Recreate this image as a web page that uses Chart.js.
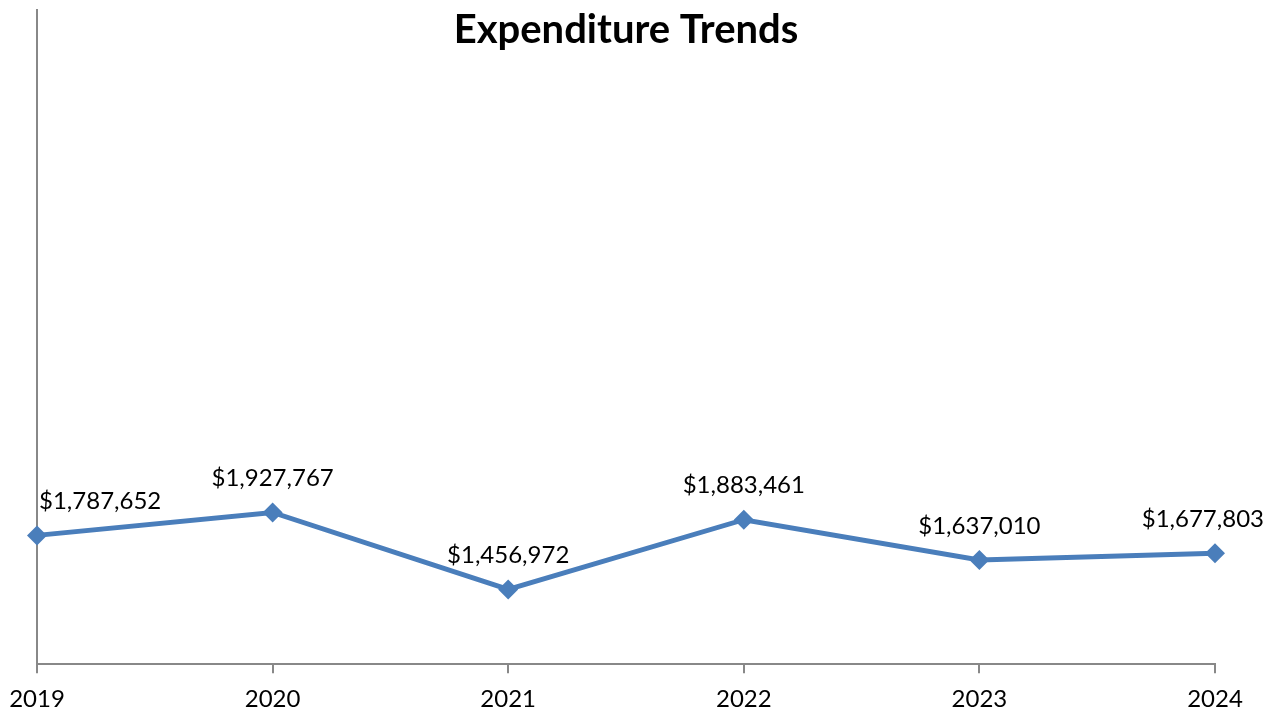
<!DOCTYPE html>
<html>
<head>
<meta charset="utf-8">
<script src="https://cdn.jsdelivr.net/npm/chart.js@4"></script>
<style>
  html, body { margin: 0; padding: 0; background: #fff; }
  #wrap { width: 1276px; height: 711px; }
</style>
</head>
<body>
<div id="wrap"><canvas id="myChart"></canvas></div>
<script>
/* chart data */
const years = ['2019', '2020', '2021', '2022', '2023', '2024'];
const expenditure = [1787652, 1927767, 1456972, 1883461, 1637010, 1677803];
const chartTitle = 'Expenditure Trends';

const FONT = 'Lato, "Open Sans", sans-serif';

function money(v) {
    return '$' + v.toLocaleString('en-US');
}

/* title over the plot + value labels above each point */
const overlay = {
    id: 'overlay',
    afterDatasetsDraw(chart) {
        const ctx = chart.ctx;
        const area = chart.chartArea;
        ctx.save();
        ctx.fillStyle = '#000';
        ctx.textAlign = 'center';
        ctx.textBaseline = 'middle';
        ctx.font = 'bold 40px ' + FONT;
        ctx.fillText(chartTitle, (area.left + area.right) / 2, 30);

        ctx.font = '24px ' + FONT;
        const meta = chart.getDatasetMeta(0);
        meta.data.forEach((pt, i) => {
            const txt = money(expenditure[i]);
            const w = ctx.measureText(txt).width;
            let x = pt.x;
            x = Math.max(x, w / 2 + 39);
            x = Math.min(x, chart.width - w / 2 - 12);
            ctx.fillText(txt, x, pt.y - 34);
        });
        ctx.restore();
    }
};

new Chart(document.getElementById('myChart'), {
    type: 'line',
    data: {
        labels: years,
        datasets: [{
            data: expenditure,
            borderColor: '#4a7ebb',
            backgroundColor: '#4a7ebb',
            borderWidth: 5,
            pointStyle: 'rectRot',
            pointRadius: 10,
            pointBorderWidth: 0,
            tension: 0
        }]
    },
    options: {
        responsive: true,
        maintainAspectRatio: false,
        animation: false,
        layout: { autoPadding: false, padding: { left: 37, right: 61, top: 10, bottom: -15 } },
        plugins: {
            legend: { display: false },
            title: { display: false },
            tooltip: { enabled: false }
        },
        scales: {
            x: {
                offset: false,
                grid: { display: true, drawOnChartArea: false, drawTicks: true, tickLength: 9, color: '#888', lineWidth: 2 },
                border: { display: true, color: '#888', width: 2 },
                ticks: { color: '#000', font: { family: FONT, size: 24 }, padding: 12, maxRotation: 0 },
                afterFit(scale) { scale.paddingLeft = 0; scale.paddingRight = 0; }
            },
            y: {
                min: 1000000,
                max: 5000000,
                grid: { display: false, drawTicks: false },
                border: { display: true, color: '#888', width: 2 },
                ticks: { display: false },
                afterFit(scale) { scale.width = 0; }
            }
        }
    },
    plugins: [overlay]
});
</script>
</body>
</html>
